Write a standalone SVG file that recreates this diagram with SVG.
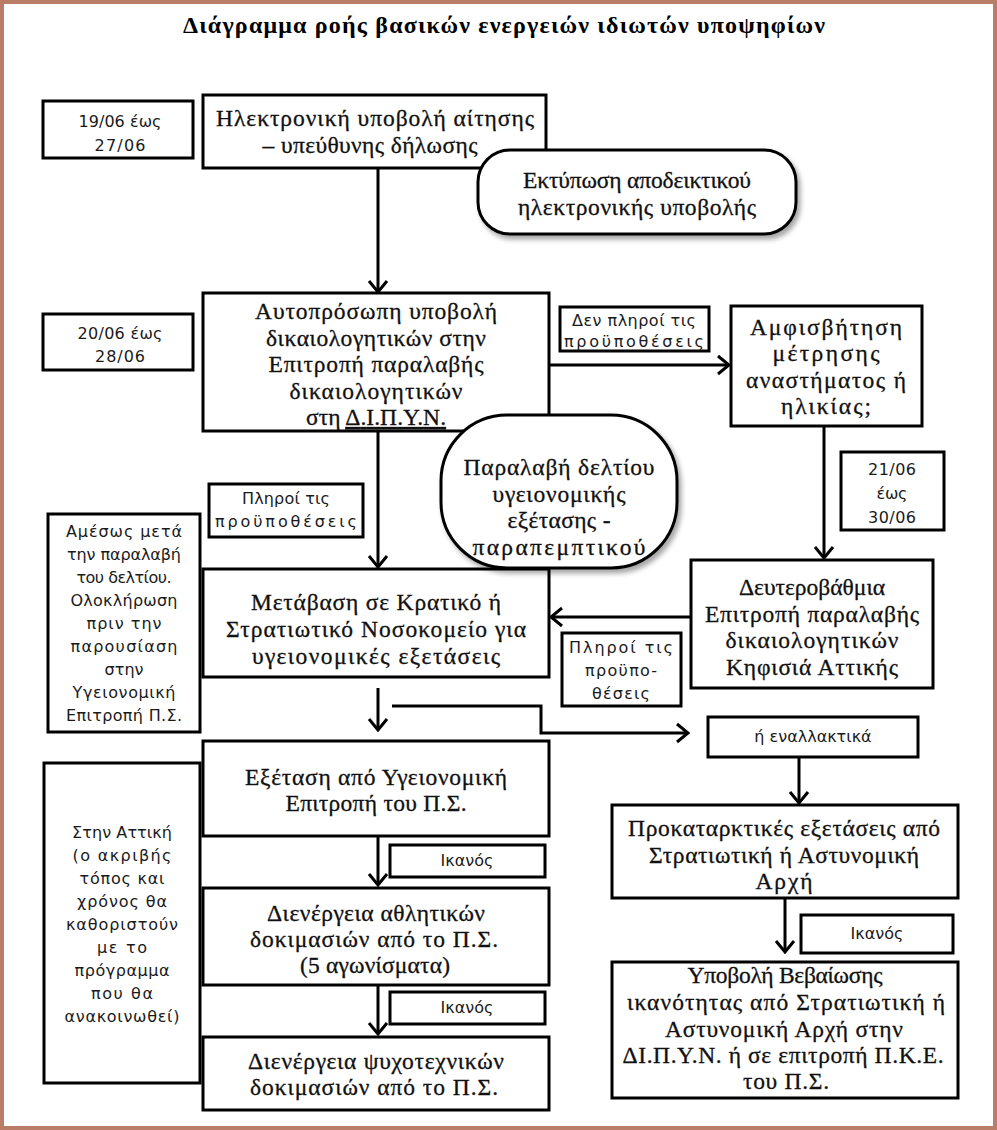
<svg xmlns="http://www.w3.org/2000/svg" width="997" height="1130" viewBox="0 0 997 1130">
<style>
.box{fill:#fff;stroke:#000;stroke-width:3}
.rnd{fill:#fff;stroke:#000;stroke-width:3;filter:url(#sh)}
.t{font-family:"Liberation Serif","Times New Roman",serif;font-size:23.5px;fill:#111;stroke:#111;stroke-width:0.3px;text-anchor:middle}
.s{font-family:"DejaVu Sans","Liberation Sans",sans-serif;font-size:16px;fill:#1a1a1a;text-anchor:middle}
.c{fill:none;stroke:#000;stroke-width:3;marker-end:url(#arr)}
</style>
<defs>
<marker id="arr" viewBox="-14 -12 16 24" refX="0" refY="0" markerWidth="16" markerHeight="24" markerUnits="userSpaceOnUse" orient="auto">
<path d="M-11,-9 L0,0 L-11,9" fill="none" stroke="#000" stroke-width="3"/>
</marker>
<filter id="sh" x="-10%" y="-10%" width="125%" height="135%">
<feDropShadow dx="3" dy="4" stdDeviation="2.5" flood-color="#000" flood-opacity="0.35"/>
</filter>
</defs>
<rect x="2" y="2" width="993" height="1126" fill="#fff" stroke="#b97d68" stroke-width="4"/>
<text x="504" y="33" font-family="Liberation Serif,serif" font-weight="bold" font-size="24" text-anchor="middle" textLength="642" lengthAdjust="spacing">Διάγραμμα ροής βασικών ενεργειών ιδιωτών υποψηφίων</text>

<g id="nodes">
<g id="date1"><rect class="box" x="43" y="101" width="150" height="57"/>
<text class="s" x="120" y="127" textLength="83" lengthAdjust="spacing">19/06 έως</text>
<text class="s" x="120" y="151" textLength="51" lengthAdjust="spacing">27/06</text></g>

<g id="n-ilektroniki"><rect class="box" x="203" y="95" width="343" height="73"/>
<text class="t" x="375" y="126" textLength="318" lengthAdjust="spacing">Ηλεκτρονική υποβολή αίτησης</text>
<text class="t" x="370" y="153" textLength="215" lengthAdjust="spacing">– υπεύθυνης δήλωσης</text></g>

<g id="n-ektyposi"><rect class="rnd" x="478" y="150" width="318" height="84" rx="32"/>
<text class="t" x="637" y="188" textLength="228" lengthAdjust="spacing">Εκτύπωση αποδεικτικού</text>
<text class="t" x="637" y="215" textLength="238" lengthAdjust="spacing">ηλεκτρονικής υποβολής</text></g>

<g id="date2"><rect class="box" x="43" y="314" width="150" height="56"/>
<text class="s" x="120" y="339" textLength="85" lengthAdjust="spacing">20/06 έως</text>
<text class="s" x="120" y="362" textLength="50" lengthAdjust="spacing">28/06</text></g>

<g id="n-autoprosopi"><rect class="box" x="203" y="293" width="346" height="138"/>
<text class="t" x="376" y="319" textLength="242" lengthAdjust="spacing">Αυτοπρόσωπη υποβολή</text>
<text class="t" x="376" y="346" textLength="220" lengthAdjust="spacing">δικαιολογητικών στην</text>
<text class="t" x="376" y="372" textLength="215" lengthAdjust="spacing">Επιτροπή παραλαβής</text>
<text class="t" x="376" y="399" textLength="173" lengthAdjust="spacing">δικαιολογητικών</text>
<text class="t" x="376" y="425" textLength="140" lengthAdjust="spacing">στη <tspan text-decoration="underline">Δ.Ι.Π.Υ.Ν.</tspan></text></g>

<g id="lbl-den-pliroi"><rect class="box" x="560" y="307" width="149" height="44"/>
<text class="s" x="634" y="326" font-size="14.5" textLength="124" lengthAdjust="spacing">Δεν πληροί τις</text>
<text class="s" x="634" y="347" font-size="14.5" textLength="140" lengthAdjust="spacing">προϋποθέσεις</text></g>

<g id="n-amfisvitisi"><rect class="box" x="731" y="306" width="191" height="120"/>
<text class="t" x="826" y="335" textLength="152" lengthAdjust="spacing">Αμφισβήτηση</text>
<text class="t" x="826" y="361" textLength="107" lengthAdjust="spacing">μέτρησης</text>
<text class="t" x="826" y="388" textLength="160" lengthAdjust="spacing">αναστήματος ή</text>
<text class="t" x="826" y="414" textLength="90" lengthAdjust="spacing">ηλικίας;</text></g>

<g id="date3"><rect class="box" x="841" y="452" width="103" height="78"/>
<text class="s" x="892" y="475" textLength="48" lengthAdjust="spacing">21/06</text>
<text class="s" x="892" y="499" textLength="31" lengthAdjust="spacing">έως</text>
<text class="s" x="892" y="523" textLength="48" lengthAdjust="spacing">30/06</text></g>

<g id="lbl-pliroi1"><rect class="box" x="209" y="484" width="154" height="53"/>
<text class="s" x="286" y="504" textLength="88" lengthAdjust="spacing">Πληροί τις</text>
<text class="s" x="286" y="527" textLength="142" lengthAdjust="spacing">προϋποθέσεις</text></g>

<g id="note-amesos"><rect class="box" x="48" y="514" width="152" height="218"/>
<text class="s" x="124" y="537" textLength="116" lengthAdjust="spacing">Αμέσως μετά</text>
<text class="s" x="124" y="560" textLength="114" lengthAdjust="spacing">την παραλαβή</text>
<text class="s" x="124" y="583" textLength="95" lengthAdjust="spacing">του δελτίου.</text>
<text class="s" x="124" y="606" textLength="107" lengthAdjust="spacing">Ολοκλήρωση</text>
<text class="s" x="124" y="629" textLength="75" lengthAdjust="spacing">πριν την</text>
<text class="s" x="124" y="652" textLength="107" lengthAdjust="spacing">παρουσίαση</text>
<text class="s" x="124" y="675" textLength="39" lengthAdjust="spacing">στην</text>
<text class="s" x="124" y="698" textLength="103" lengthAdjust="spacing">Υγειονομική</text>
<text class="s" x="124" y="721" textLength="116" lengthAdjust="spacing">Επιτροπή Π.Σ.</text></g>

<g id="n-metavasi"><rect class="box" x="203" y="569" width="346" height="108"/>
<text class="t" x="376" y="610" textLength="250" lengthAdjust="spacing">Μετάβαση σε Κρατικό ή</text>
<text class="t" x="376" y="637" textLength="300" lengthAdjust="spacing">Στρατιωτικό Νοσοκομείο για</text>
<text class="t" x="376" y="664" textLength="248" lengthAdjust="spacing">υγειονομικές εξετάσεις</text></g>

<g id="n-deuterovathmia"><rect class="box" x="691" y="560" width="242" height="128"/>
<text class="t" x="812" y="595">Δευτεροβάθμια</text>
<text class="t" x="812" y="622" textLength="214" lengthAdjust="spacing">Επιτροπή παραλαβής</text>
<text class="t" x="812" y="648" textLength="173" lengthAdjust="spacing">δικαιολογητικών</text>
<text class="t" x="812" y="675" textLength="172" lengthAdjust="spacing">Κηφισιά Αττικής</text></g>

<g id="n-paralavi"><rect class="rnd" x="441" y="415" width="236" height="153" rx="66"/>
<text class="t" x="559" y="475" textLength="191" lengthAdjust="spacing">Παραλαβή δελτίου</text>
<text class="t" x="559" y="502" textLength="133" lengthAdjust="spacing">υγειονομικής</text>
<text class="t" x="559" y="528" textLength="103" lengthAdjust="spacing">εξέτασης -</text>
<text class="t" x="559" y="555" textLength="173" lengthAdjust="spacing">παραπεμπτικού</text></g>

<g id="lbl-pliroi2"><rect class="box" x="562" y="633" width="119" height="73"/>
<text class="s" x="621" y="653" font-size="16.5" textLength="104" lengthAdjust="spacing">Πληροί τις</text>
<text class="s" x="621" y="676" font-size="16.5" textLength="72" lengthAdjust="spacing">προϋπο-</text>
<text class="s" x="621" y="699" font-size="16.5" textLength="58" lengthAdjust="spacing">θέσεις</text></g>

<g id="lbl-enallaktika"><rect class="box" x="708" y="717" width="210" height="40"/>
<text class="s" x="813" y="742" font-size="14.5">ή εναλλακτικά</text></g>

<g id="n-exetasi"><rect class="box" x="203" y="741" width="346" height="95"/>
<text class="t" x="376" y="785" textLength="262" lengthAdjust="spacing">Εξέταση από Υγειονομική</text>
<text class="t" x="376" y="811" textLength="181" lengthAdjust="spacing">Επιτροπή του Π.Σ.</text></g>

<g id="note-attiki"><rect class="box" x="44" y="763" width="156" height="320"/>
<text class="s" x="122" y="838" textLength="100" lengthAdjust="spacing">Στην Αττική</text>
<text class="s" x="122" y="861" textLength="99" lengthAdjust="spacing"> (ο ακριβής</text>
<text class="s" x="122" y="884" textLength="85" lengthAdjust="spacing">τόπος και</text>
<text class="s" x="122" y="907" textLength="90" lengthAdjust="spacing">χρόνος θα</text>
<text class="s" x="122" y="930" textLength="112" lengthAdjust="spacing">καθοριστούν</text>
<text class="s" x="122" y="953" textLength="50" lengthAdjust="spacing">με το</text>
<text class="s" x="122" y="976" textLength="95" lengthAdjust="spacing">πρόγραμμα</text>
<text class="s" x="122" y="999" textLength="62" lengthAdjust="spacing">που θα</text>
<text class="s" x="122" y="1022" textLength="115" lengthAdjust="spacing">ανακοινωθεί)</text></g>

<g id="lbl-ikanos1"><rect class="box" x="390" y="845" width="155" height="32"/>
<text class="s" x="467" y="866">Ικανός</text></g>

<g id="n-athlitikes"><rect class="box" x="203" y="888" width="346" height="97"/>
<text class="t" x="376" y="921" textLength="218" lengthAdjust="spacing">Διενέργεια αθλητικών</text>
<text class="t" x="374" y="947" textLength="248" lengthAdjust="spacing">δοκιμασιών  από το Π.Σ.</text>
<text class="t" x="375" y="973" textLength="150" lengthAdjust="spacing">(5 αγωνίσματα)</text></g>

<g id="lbl-ikanos2"><rect class="box" x="390" y="992" width="155" height="32"/>
<text class="s" x="467" y="1013">Ικανός</text></g>

<g id="n-psychotechnikes"><rect class="box" x="203" y="1037" width="346" height="73"/>
<text class="t" x="376" y="1069" textLength="256" lengthAdjust="spacing">Διενέργεια ψυχοτεχνικών</text>
<text class="t" x="374" y="1095" textLength="248" lengthAdjust="spacing">δοκιμασιών  από το Π.Σ.</text></g>

<g id="n-prokatarktikes"><rect class="box" x="612" y="805" width="346" height="93"/>
<text class="t" x="784" y="836" textLength="312" lengthAdjust="spacing">Προκαταρκτικές εξετάσεις από</text>
<text class="t" x="784" y="863" textLength="270" lengthAdjust="spacing">Στρατιωτική ή Αστυνομική</text>
<text class="t" x="784" y="889" textLength="57" lengthAdjust="spacing">Αρχή</text></g>

<g id="lbl-ikanos3"><rect class="box" x="801" y="915" width="152" height="38"/>
<text class="s" x="877" y="939">Ικανός</text></g>

<g id="n-ypovoli"><rect class="box" x="612" y="962" width="346" height="136"/>
<text class="t" x="785" y="983" textLength="195" lengthAdjust="spacing">Υποβολή Βεβαίωσης</text>
<text class="t" x="786" y="1010" textLength="318" lengthAdjust="spacing">ικανότητας από Στρατιωτική ή</text>
<text class="t" x="784" y="1037" textLength="238" lengthAdjust="spacing">Αστυνομική Αρχή στην</text>
<text class="t" x="783" y="1063" textLength="321" lengthAdjust="spacing">ΔΙ.Π.Υ.Ν. ή σε επιτροπή Π.Κ.Ε.</text>
<text class="t" x="786" y="1089" textLength="86" lengthAdjust="spacing">του Π.Σ.</text></g>
</g>

<g id="connectors">
<path class="c" d="M378,168 V292"/>
<path class="c" d="M549,365 H729"/>
<path class="c" d="M824,426 V558"/>
<path class="c" d="M378,431 V567"/>
<path class="c" d="M691,617 H551"/>
<path class="c" d="M378,688 V730"/>
<path class="c" d="M392,706 H541 V733 H688"/>
<path class="c" d="M799,757 V803"/>
<path class="c" d="M378,836 V885"/>
<path class="c" d="M378,985 V1034"/>
<path class="c" d="M785,898 V952"/>
</g>
</svg>
